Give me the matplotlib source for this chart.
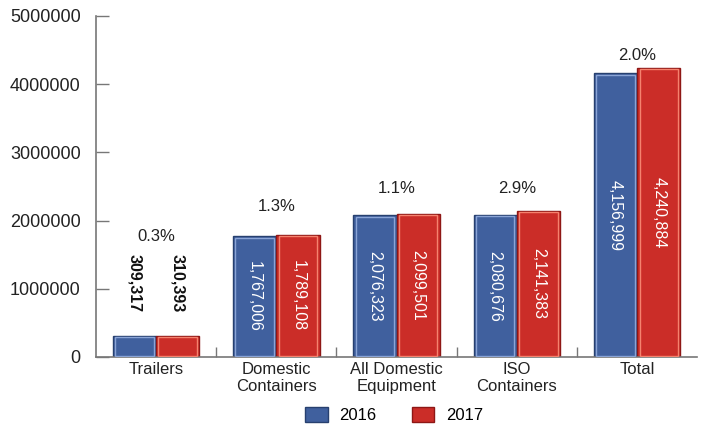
import matplotlib.pyplot as plt
import numpy as np
from matplotlib.patches import Patch

plt.rcParams['font.family'] = ['Liberation Sans', 'DejaVu Sans']

categories = ['Trailers', 'Domestic\nContainers', 'All Domestic\nEquipment',
              'ISO\nContainers', 'Total']
vals_2016 = [309317, 1767006, 2076323, 2080676, 4156999]
vals_2017 = [310393, 1789108, 2099501, 2141383, 4240884]
pct_change = ['0.3%', '1.3%', '1.1%', '2.9%', '2.0%']
years = ['2016', '2017']

blue, blue_dark, blue_light = '#40609E', '#27406F', '#8AA4D6'
red, red_dark, red_light = '#CB2D28', '#8E1715', '#F5826E'

fig = plt.figure(figsize=(7.05, 4.29), dpi=100)
ax = fig.add_axes([0.136, 0.168, 0.853, 0.795])

x = np.arange(len(categories))
w = 0.36

series = [(vals_2016, -w / 2, blue, blue_dark, blue_light),
          (vals_2017, w / 2, red, red_dark, red_light)]

for vals, off, fc, dark, light in series:
    ax.bar(x + off, vals, w, color=fc, edgecolor=dark, linewidth=1.0, zorder=2)
    # lighter inner bevel line
    ax.bar(x + off, np.array(vals) - 40000, w - 0.04, bottom=20000,
           color='none', edgecolor=light, linewidth=1.0, zorder=3)
    for i, v in enumerate(vals):
        label = f'{v:,}'
        if v < 600000:
            ax.annotate(label, (x[i] + off, v), xytext=(0, 17),
                        textcoords='offset points', ha='center', va='bottom',
                        rotation=-90, fontsize=11.5, fontweight='bold',
                        color='#111111')
        else:
            ax.text(x[i] + off, v / 2, label, ha='center', va='center',
                    rotation=-90, fontsize=11.5, color='white', zorder=4)

# gap (points) between each group's taller bar and its change label
pct_gap = [66, 15, 13, 11, 3]
for i, p in enumerate(pct_change):
    top = max(vals_2016[i], vals_2017[i])
    ax.annotate(p, (x[i], top), xytext=(0, pct_gap[i]),
                textcoords='offset points', ha='center', va='bottom',
                fontsize=12, color='#222222')

ax.set_xlim(-0.5, len(categories) - 0.5)
ax.set_ylim(0, 5000000)
ax.set_yticks(np.arange(0, 5000001, 1000000))
ax.set_yticklabels([str(t) for t in range(0, 5000001, 1000000)])

ax.set_xticks(x)
ax.set_xticklabels(categories, fontsize=12, color='#222222', linespacing=1.15)
ax.tick_params(axis='x', length=0, pad=4)
ax.set_xticks(x[:-1] + 0.5, minor=True)
ax.tick_params(axis='x', which='minor', direction='in', length=7,
               color='#777777', width=1)
ax.tick_params(axis='y', direction='in', length=9, color='#777777', width=1,
               labelsize=13, labelcolor='#222222', pad=11)

for s in ['top', 'right']:
    ax.spines[s].set_visible(False)
for s in ['left', 'bottom']:
    ax.spines[s].set_color('#777777')
    ax.spines[s].set_linewidth(1.2)

handles = [Patch(facecolor=blue, edgecolor=blue_dark),
           Patch(facecolor=red, edgecolor=red_dark)]
fig.legend(handles, years, loc='center', ncol=2, frameon=False,
           bbox_to_anchor=(0.559, 0.033), fontsize=12, handlelength=1.35,
           handleheight=1.0, columnspacing=2.1, handletextpad=0.7)

fig.savefig('out.png', dpi=100)
